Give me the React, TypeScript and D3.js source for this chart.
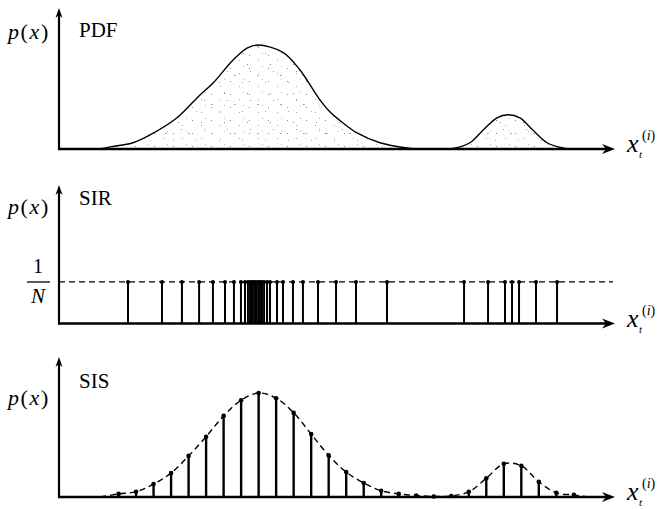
import React from "react";
import * as d3 from "d3";

// Continuous PDF outline: sample points (x, density relative to main peak)
const pdfX = [2.34, 2.91, 4.23, 5.2, 6.74, 8.05, 8.8, 9.94, 10.74, 11.37, 12.79, 13.76, 14.91, 15.48, 16.22, 17.02, 18.33, 19.87, 20.61, 22.5, 23.47, 24.21, 25.01, 25.64, 26.32, 27.07, 27.87, 28.78, 29.47];
const pdfY = [0, 0.02, 0.06, 0.135, 0.3, 0.52, 0.635, 0.855, 0.97, 1.0, 0.93, 0.76, 0.47, 0.355, 0.25, 0.155, 0.06, 0.01, 0, 0.005, 0.06, 0.18, 0.3, 0.33, 0.3, 0.18, 0.06, 0.01, 0];

// SIR: resampled particle locations, each with weight 1/N
const sirX = [3.94, 5.88, 7.02, 8.0, 8.79, 9.48, 9.99, 10.39, 10.62, 10.79, 10.91, 11.02, 11.14, 11.25, 11.37, 11.48, 11.59, 11.71, 11.88, 12.05, 12.45, 12.79, 13.36, 13.93, 14.79, 15.82, 16.96, 18.73, 23.13, 24.5, 25.47, 25.87, 26.27, 27.24, 28.44];
const sirWeight = 0.4;

// SIS: evenly spread particles with importance weights
const sisX = [3.4, 4.4, 5.4, 6.4, 7.4, 8.4, 9.4, 10.4, 11.4, 12.4, 13.4, 14.4, 15.4, 16.4, 17.4, 18.4, 19.4, 20.4, 21.4, 22.4, 23.4, 24.4, 25.4, 26.4, 27.4, 28.4, 29.4];
const sisW = [0.03, 0.05, 0.125, 0.23, 0.395, 0.58, 0.78, 0.93, 1.0, 0.95, 0.81, 0.605, 0.4, 0.24, 0.135, 0.06, 0.03, 0.015, 0.005, 0.01, 0.05, 0.18, 0.32, 0.3, 0.145, 0.04, 0.02];
const sisCurveStart = 2.35;
const sisCurveEnd = 30.2;

const panelTitles = ["PDF", "SIR", "SIS"];

const W = 657;
const H = 509;
const AXIS_X = 59;
const AXIS_END = 615;
const FONT = "'Liberation Serif', 'Times New Roman', Times, 'DejaVu Serif', serif";

const x = d3.scaleLinear().domain([0, 31.75]).range([AXIS_X, AXIS_END]);

function yScale(base: number) {
  return d3.scaleLinear().domain([0, 1]).range([base, base - 104]);
}

function Axes({ base, top }: { base: number; top: number }) {
  const tip = AXIS_END;
  return (
    <g>
      <line x1={AXIS_X} y1={base + 1} x2={AXIS_X} y2={top + 5} stroke="#000" strokeWidth={2.2} />
      <path d={`M${AXIS_X},${top} L${AXIS_X - 3.5},${top + 10} L${AXIS_X},${top + 7} L${AXIS_X + 3.5},${top + 10} Z`} fill="#000" />
      <line x1={AXIS_X - 1} y1={base} x2={tip - 6} y2={base} stroke="#000" strokeWidth={2.6} />
      <path d={`M${tip},${base} L${tip - 13},${base - 5} L${tip - 9},${base} L${tip - 13},${base + 5} Z`} fill="#000" />
    </g>
  );
}

function PLabel({ y }: { y: number }) {
  return (
    <text x={8} y={y} style={{ fontFamily: FONT, fontSize: 22, fontStyle: "italic", letterSpacing: 1.6 }}>
      p<tspan style={{ fontStyle: "normal" }}>(</tspan>x<tspan style={{ fontStyle: "normal" }}>)</tspan>
    </text>
  );
}

function XLabel({ base }: { base: number }) {
  return (
    <g style={{ fontFamily: FONT }}>
      <text x={627} y={base + 3} style={{ fontSize: 26, fontStyle: "italic" }}>x</text>
      <text x={639} y={base + 9} style={{ fontSize: 11, fontStyle: "italic" }}>t</text>
      <text x={642} y={base - 9} style={{ fontSize: 14 }}>
        (<tspan style={{ fontStyle: "italic" }}>i</tspan>)
      </text>
    </g>
  );
}

function Title({ text, y }: { text: string; y: number }) {
  return (
    <text x={79} y={y} style={{ fontFamily: FONT, fontSize: 21 }}>
      {text}
    </text>
  );
}

export default function App() {
  // Panel 1: PDF
  const base1 = 149;
  const y1 = yScale(base1);
  const pdfPts: [number, number][] = pdfX.map((v, i) => [v, pdfY[i]]);
  const curve = d3.curveCatmullRom.alpha(0.5);
  const pdfLine = d3.line<[number, number]>().x((d) => x(d[0])).y((d) => Math.min(base1, y1(d[1]))).curve(curve);
  const pdfArea = d3.area<[number, number]>().x((d) => x(d[0])).y0(base1).y1((d) => Math.min(base1, y1(d[1]))).curve(curve);

  // Panel 2: SIR
  const base2 = 323.5;
  const y2 = yScale(base2);
  const lvl = y2(sirWeight);

  // Panel 3: SIS
  const base3 = 497;
  const y3 = yScale(base3);
  const sisPts: [number, number][] = [[sisCurveStart, 0], ...sisX.map((v, i) => [v, sisW[i]] as [number, number]), [sisCurveEnd, 0]];
  const sisLine = d3.line<[number, number]>().x((d) => x(d[0])).y((d) => y3(d[1])).curve(curve);

  return (
    <svg width={W} height={H} style={{ position: "absolute", left: 0, top: 0, background: "#fff" }}>
      <defs>
        {/* sparse, uneven stipple for the shaded density */}
        <pattern id="stipA" width={19} height={13} patternUnits="userSpaceOnUse">
          <rect x={2} y={3} width={1} height={1} fill="#888" />
          <rect x={11} y={8} width={1} height={1} fill="#aaa" />
          <rect x={15} y={1} width={1} height={1} fill="#bbb" />
        </pattern>
        <pattern id="stipB" width={23} height={29} patternUnits="userSpaceOnUse">
          <rect x={4} y={17} width={1} height={1} fill="#999" />
          <rect x={5} y={17} width={1} height={1} fill="#bbb" />
          <rect x={17} y={6} width={1} height={1} fill="#888" />
          <rect x={12} y={24} width={1} height={1} fill="#aaa" />
          <rect x={20} y={13} width={1} height={1} fill="#999" />
        </pattern>
      </defs>

      {/* PDF */}
      <path d={pdfArea(pdfPts) || ""} fill="url(#stipA)" />
      <path d={pdfArea(pdfPts) || ""} fill="url(#stipB)" />
      <path d={pdfLine(pdfPts) || ""} fill="none" stroke="#000" strokeWidth={1.4} />
      <Axes base={base1} top={8} />
      <PLabel y={39} />
      <Title text={panelTitles[0]} y={37} />
      <XLabel base={base1} />

      {/* SIR */}
      <line x1={AXIS_X} y1={lvl} x2={AXIS_END - 2} y2={lvl} stroke="#000" strokeWidth={1.4} strokeDasharray="6,4" />
      {sirX.map((v, i) => (
        <g key={i}>
          <line x1={x(v)} y1={base2} x2={x(v)} y2={lvl} stroke="#000" strokeWidth={2} />
          <circle cx={x(v)} cy={lvl} r={2} fill="#000" />
        </g>
      ))}
      <Axes base={base2} top={185} />
      <PLabel y={214} />
      <Title text={panelTitles[1]} y={205} />
      <text x={38} y={273} textAnchor="middle" style={{ fontFamily: FONT, fontSize: 20 }}>1</text>
      <line x1={27} y1={282} x2={50} y2={282} stroke="#000" strokeWidth={1.3} />
      <text x={38} y={303} textAnchor="middle" style={{ fontFamily: FONT, fontSize: 21, fontStyle: "italic" }}>N</text>
      <XLabel base={base2} />

      {/* SIS */}
      <path d={sisLine(sisPts) || ""} fill="none" stroke="#000" strokeWidth={1.4} strokeDasharray="6,4" />
      {sisX.map((v, i) => (
        <g key={i}>
          <line x1={x(v)} y1={base3} x2={x(v)} y2={y3(sisW[i])} stroke="#000" strokeWidth={2.4} />
          <circle cx={x(v)} cy={y3(sisW[i])} r={2.3} fill="#000" />
        </g>
      ))}
      <Axes base={base3} top={357} />
      <PLabel y={405} />
      <Title text={panelTitles[2]} y={388} />
      <XLabel base={base3} />
    </svg>
  );
}
